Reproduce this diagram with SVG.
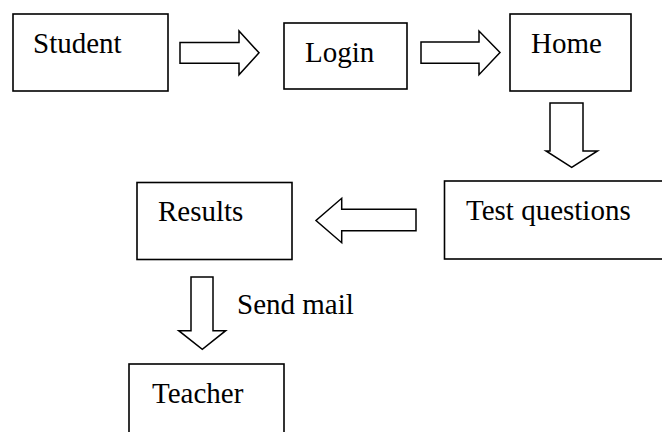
<svg xmlns="http://www.w3.org/2000/svg" width="662" height="432" viewBox="0 0 662 432">
<style>
.box{fill:#fff;stroke:#000;stroke-width:1.6}
.arr{fill:#fff;stroke:#000;stroke-width:1.5;stroke-linejoin:miter}
.t{font-family:"Liberation Serif","Times New Roman",serif;font-size:29px;fill:#000}
</style>
<rect width="662" height="432" fill="#fff"/>
<g id="connectors">
<polygon class="arr" points="180,42.5 239,42.5 239,31 259,52.8 239,74.7 239,63.3 180,63.3"/>
<polygon class="arr" points="421,42 479,42 479,31 500,52.5 479,74.7 479,63.3 421,63.3"/>
<polygon class="arr" points="550,103 583,103 583,151 597.5,151 571.7,167.3 546,151 550,151"/>
<polygon class="arr" points="416,209.3 341.7,209.3 341.7,198.3 316,220.5 341.7,242.7 341.7,230.7 416,230.7"/>
<polygon class="arr" points="191,277 213,277 213,330.7 225.7,330.7 202.3,349.3 178.7,330.7 191,330.7"/>
<text class="t" x="237" y="314">Send mail</text>
</g>
<g id="student"><rect class="box" x="13" y="14" width="155" height="77"/><text class="t" x="33" y="53">Student</text></g>
<g id="login"><rect class="box" x="284" y="23" width="123" height="66"/><text class="t" x="305" y="62">Login</text></g>
<g id="home"><rect class="box" x="510" y="14" width="121" height="77"/><text class="t" x="531" y="53">Home</text></g>
<g id="test-questions"><rect class="box" x="444.5" y="181" width="230" height="78"/><text class="t" x="466" y="220">Test questions</text></g>
<g id="results"><rect class="box" x="137" y="182.5" width="155" height="77"/><text class="t" x="158" y="221">Results</text></g>
<g id="teacher"><rect class="box" x="129" y="364" width="155" height="80"/><text class="t" x="152" y="403">Teacher</text></g>
</svg>
